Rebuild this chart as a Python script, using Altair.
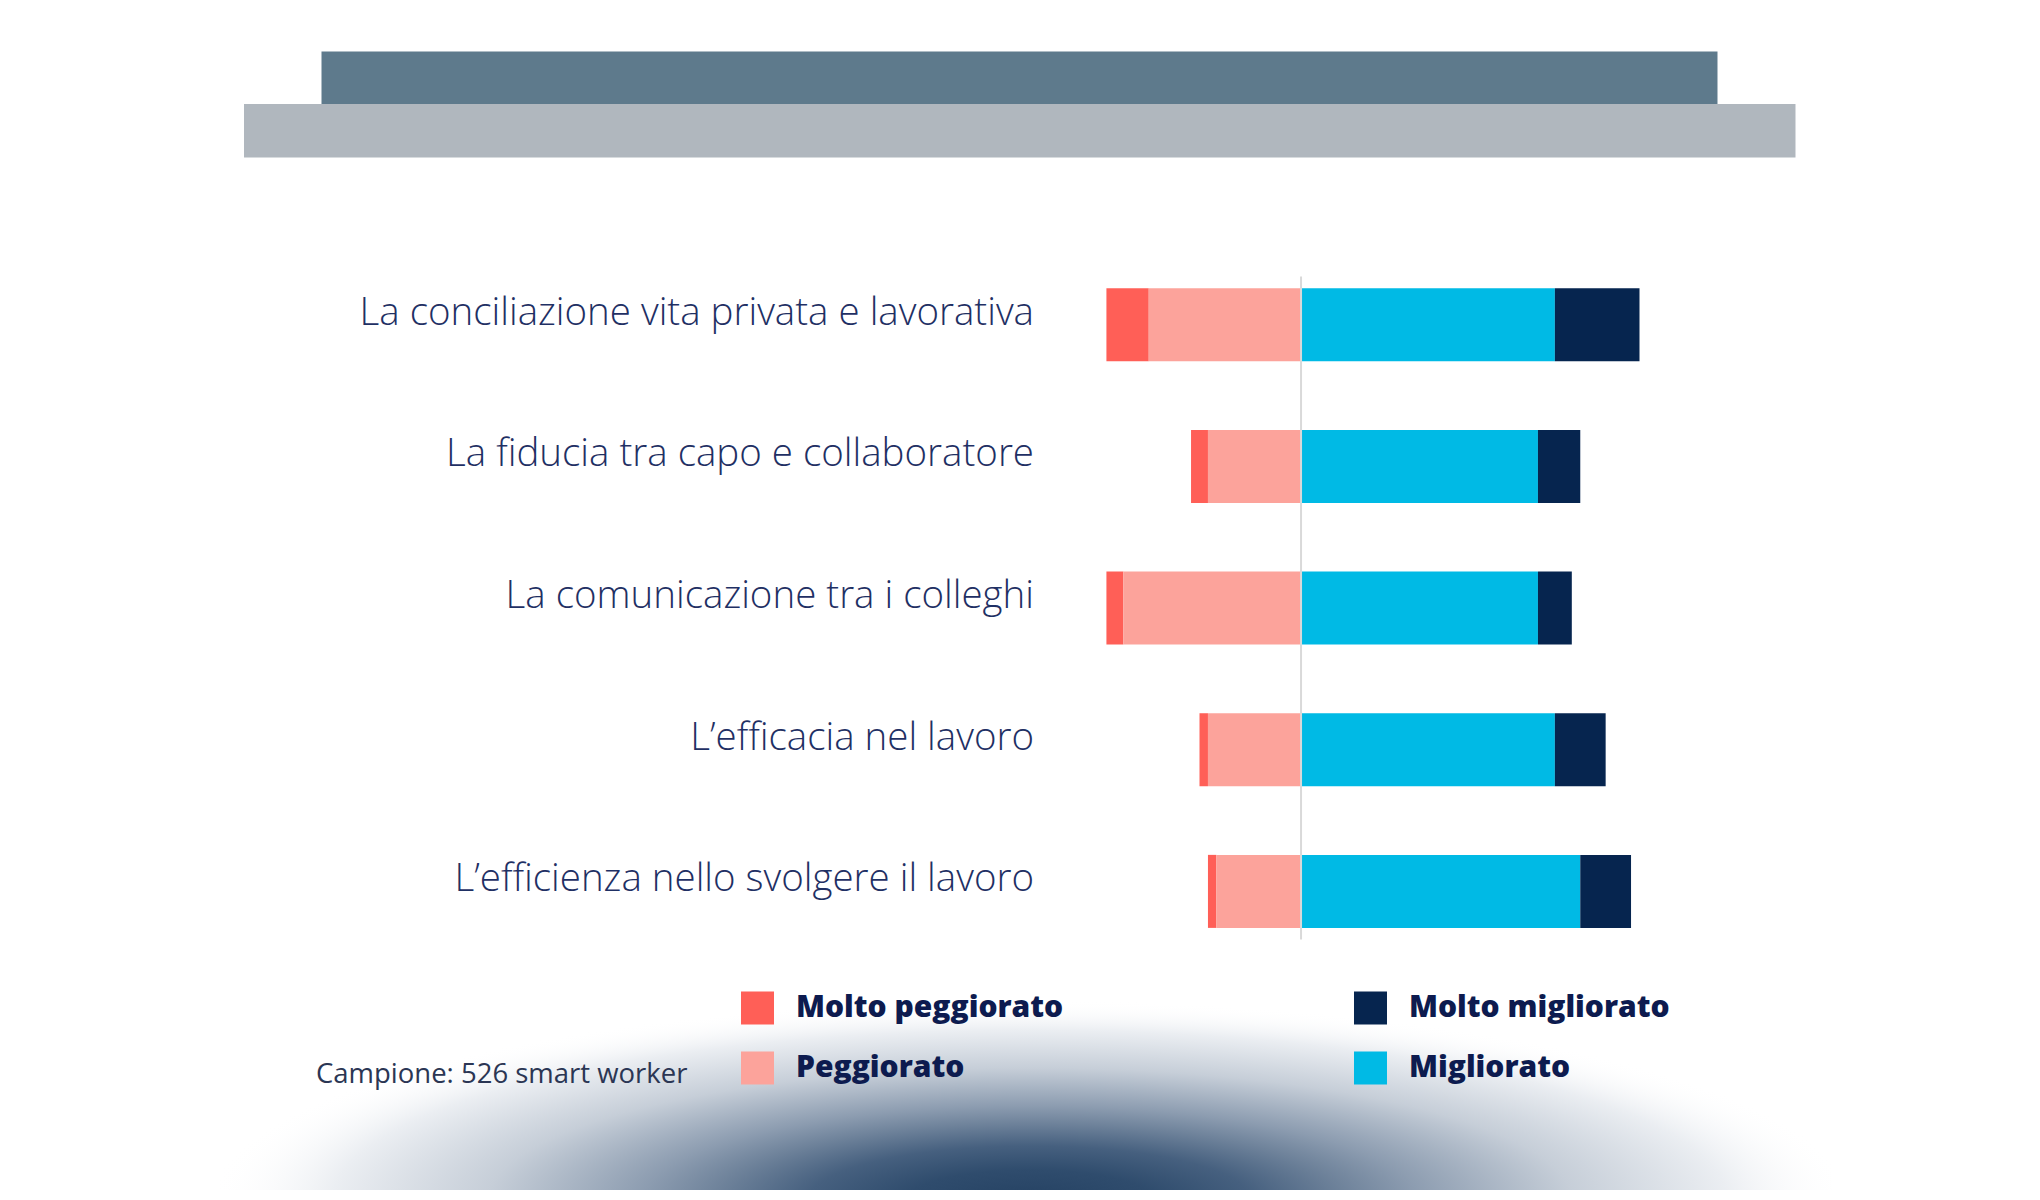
import base64
import altair as alt
import pandas as pd

# survey answers (% of respondents)
categorie = [
    "La conciliazione vita privata e lavorativa",
    "La fiducia tra capo e collaboratore",
    "La comunicazione tra i colleghi",
    "L\u2019efficacia nel lavoro",
    "L\u2019efficienza nello svolgere il lavoro",
]
molto_peggiorato = [5, 2, 2, 1, 1]
peggiorato = [18, 11, 21, 11, 10]
migliorato = [30, 28, 28, 30, 33]
molto_migliorato = [10, 5, 4, 6, 6]

# legend reads column by column: left the "worse" answers, right the "better" ones
risposte = ["Molto peggiorato", "Peggiorato", "Molto migliorato", "Migliorato"]
colori = ["#FF5F57", "#FCA39B", "#06254F", "#00BAE5"]
ordine = {"Peggiorato": 1, "Migliorato": 2, "Molto peggiorato": 3, "Molto migliorato": 4}

rows = []
for i, cat in enumerate(categorie):
    rows.append({"categoria": cat, "risposta": "Molto peggiorato", "valore": -molto_peggiorato[i]})
    rows.append({"categoria": cat, "risposta": "Peggiorato", "valore": -peggiorato[i]})
    rows.append({"categoria": cat, "risposta": "Migliorato", "valore": migliorato[i]})
    rows.append({"categoria": cat, "risposta": "Molto migliorato", "valore": molto_migliorato[i]})
df = pd.DataFrame(rows)
df["ordine"] = df["risposta"].map(ordine)

one = pd.DataFrame({"k": [0]})

# decorative elliptical shade at the bottom (svg image, so the gradient can be elliptical)
svg_sfumatura = (
    '<svg xmlns="http://www.w3.org/2000/svg" width="1614" height="400" '
    'viewBox="218 1000 1614 400" preserveAspectRatio="none">'
    '<defs><radialGradient id="g" cx="0.5" cy="0.5" r="0.5">'
    '<stop offset="0" stop-color="#254263"/>'
    '<stop offset="0.15" stop-color="#2F4C6D"/>'
    '<stop offset="0.27" stop-color="#46607F"/>'
    '<stop offset="0.385" stop-color="#6F839B"/>'
    '<stop offset="0.47" stop-color="#8C9CB0"/>'
    '<stop offset="0.66" stop-color="#C6CED8"/>'
    '<stop offset="0.85" stop-color="#EBEEF2"/>'
    '<stop offset="1" stop-color="#FFFFFF" stop-opacity="0"/>'
    '</radialGradient></defs>'
    '<rect x="210" y="1000" width="1640" height="400" fill="url(#g)"/></svg>'
)
url_sfumatura = "data:image/svg+xml;base64," + base64.b64encode(svg_sfumatura.encode()).decode()

sfumatura = alt.Chart(one).mark_image(
    width=1614, height=400, align="left", baseline="top", aspect=False
).encode(x=alt.value(-871.5), y=alt.value(723.4), url=alt.value(url_sfumatura))

# header bands
fascia_chiara = alt.Chart(one).mark_rect(color="#B0B7BE").encode(
    x=alt.value(-845.5), x2=alt.value(706), y=alt.value(-172.6), y2=alt.value(-119)
)
fascia_scura = alt.Chart(one).mark_rect(color="#5E7A8C").encode(
    x=alt.value(-768), x2=alt.value(628), y=alt.value(-225), y2=alt.value(-172.6)
)

nota = alt.Chart(one).mark_text(
    align="left", baseline="middle", font="Open Sans", fontSize=27.5, color="#2B3654"
).encode(x=alt.value(-773.5), y=alt.value(798), text=alt.value("Campione: 526 smart worker"))

barre = alt.Chart(df).mark_bar().encode(
    x=alt.X("valore:Q", stack="zero", axis=None,
            scale=alt.Scale(domain=[-25, 40], nice=False, zero=False)),
    y=alt.Y("categoria:N", sort=categorie, title=None,
            scale=alt.Scale(paddingInner=0.4845, paddingOuter=0.0826),
            axis=alt.Axis(domain=False, ticks=False, labelFont="Open Sans", labelFontWeight=300,
                          labelFontSize=38.5, labelColor="#1F3064", labelPadding=56,
                          labelBaseline="alphabetic", labelLimit=1000)),
    color=alt.Color("risposta:N", title=None,
                    scale=alt.Scale(domain=risposte, range=colori),
                    legend=alt.Legend(orient="none", legendX=-348.5, legendY=715, columns=2,
                                      columnPadding=290, rowPadding=27, padding=0,
                                      symbolType="square", symbolSize=1089, symbolStrokeWidth=0,
                                      symbolOpacity=1, labelFont="Open Sans", labelFontWeight=800,
                                      labelFontSize=30, labelColor="#0D1B4F", labelOffset=22,
                                      labelLimit=600)),
    order=alt.Order("ordine:Q"),
)

zero = alt.Chart(one).mark_rule(color="#D9D9D9", strokeWidth=2).encode(x=alt.datum(0))

chart = alt.layer(sfumatura, fascia_chiara, fascia_scura, nota, barre, zero).properties(
    width=550,
    height=663,
    padding={"left": 1081.5, "top": 268.6, "right": 392, "bottom": 250},
    autosize=alt.AutoSizeParams(type="none"),
).configure_view(strokeWidth=0)

chart.save("out.html", embed_options={"renderer": "svg", "actions": False})
